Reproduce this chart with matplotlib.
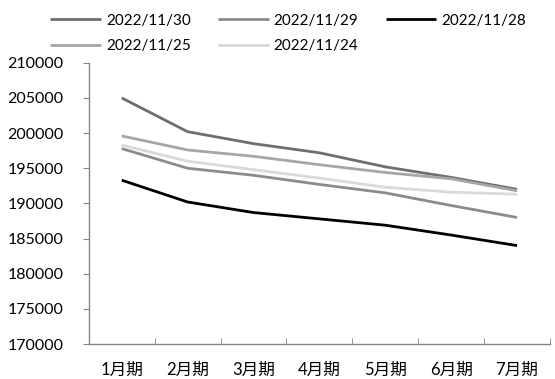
import matplotlib
matplotlib.use("Agg")
import matplotlib.pyplot as plt
import numpy as np

plt.rcParams['font.family'] = ['Lato', 'Noto Sans CJK SC', 'DejaVu Sans']

months = ["1月期", "2月期", "3月期", "4月期", "5月期", "6月期", "7月期"]
d1130 = [205000, 200200, 198500, 197200, 195200, 193700, 192000]
d1129 = [197800, 195000, 194000, 192700, 191500, 189700, 188000]
d1128 = [193300, 190200, 188700, 187800, 186900, 185500, 184000]
d1125 = [199600, 197600, 196700, 195500, 194400, 193500, 191800]
d1124 = [198300, 196000, 194800, 193600, 192300, 191600, 191300]

series = [
    ("2022/11/30", d1130, "#6e6e6e"),
    ("2022/11/29", d1129, "#8c8c8c"),
    ("2022/11/28", d1128, "#000000"),
    ("2022/11/25", d1125, "#a6a6a6"),
    ("2022/11/24", d1124, "#d9d9d9"),
]

fig = plt.figure(figsize=(5.55, 3.79), dpi=100)
ax = fig.add_axes([0.160, 0.0923, 0.831, 0.742])

x = np.arange(len(months))
handles = []
for name, vals, col in series:
    h, = ax.plot(x, vals, color=col, lw=2.0, label=name, solid_capstyle='butt')
    handles.append(h)

ax.set_xlim(-0.5, 6.5)
ax.set_ylim(170000, 210000)
ax.set_yticks(np.arange(170000, 210001, 5000))
ax.set_xticks(x)
ax.set_xticklabels(months, fontsize=12)
ax.set_xticks(np.arange(-0.5, 7, 1), minor=True)
ax.tick_params(axis='x', which='major', length=0, pad=13)
ax.tick_params(axis='x', which='minor', direction='in', length=4, color='#868686')
ax.tick_params(axis='y', direction='out', length=4, color='#868686', labelsize=11.5, pad=14)

for s in ['top', 'right']:
    ax.spines[s].set_visible(False)
for s in ['left', 'bottom']:
    ax.spines[s].set_color('#868686')
    ax.spines[s].set_linewidth(1.0)

# row-wise order for a 3-column legend (matplotlib fills by column)
order = [0, 3, 1, 4, 2]
fig.legend(handles=[handles[i] for i in order], loc='upper left', bbox_to_anchor=(0.066, 1.0), ncol=3,
           frameon=False, fontsize=11, handlelength=3.3, handletextpad=0.33,
           columnspacing=1.8, labelspacing=0.75)

fig.savefig("out.png", dpi=100)
